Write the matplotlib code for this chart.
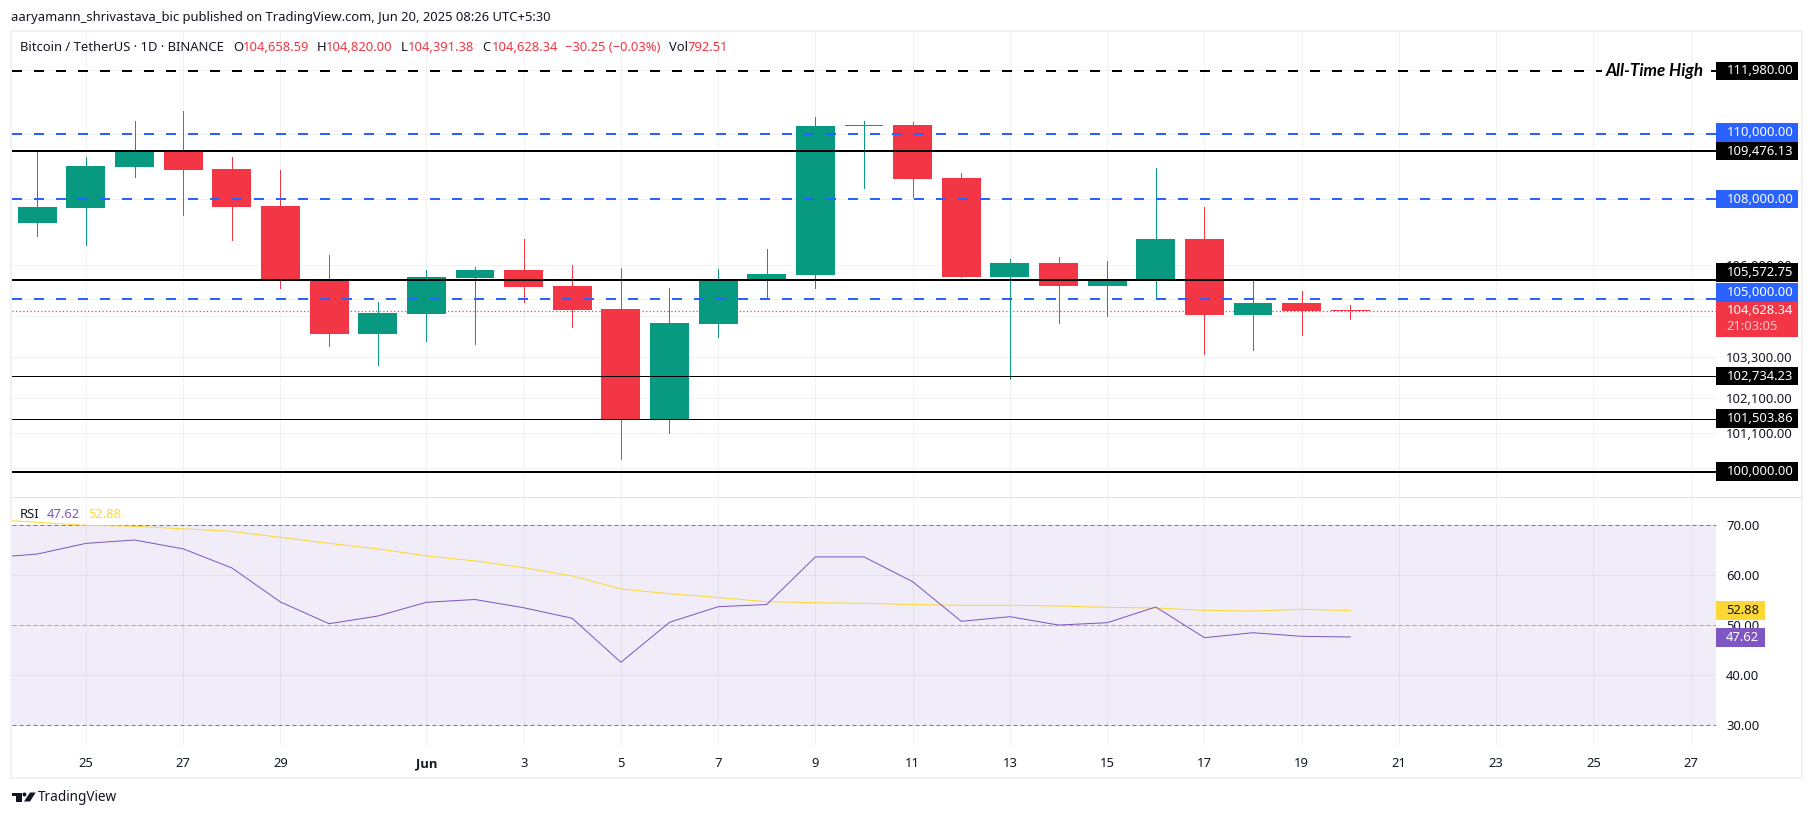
#!/usr/bin/env python3
# -*- coding: utf-8 -*-

import matplotlib
matplotlib.use('Agg')
import matplotlib.pyplot as plt
from matplotlib.patches import Circle, Polygon, Rectangle
from matplotlib.ticker import NullLocator

### Data ##

# one candle per day, May 24 to Jun 20 2025
opens = [107270, 107730, 108980, 109510, 108920, 107790, 105560, 103960, 104550, 105620,
         105860, 105380, 104700, 101500, 104260, 105560, 105710, 110250, 110280, 108650,
         105650, 106070, 105380, 105560, 106790, 104520, 104880, 104658.59]
closes = [107760, 109010, 109510, 108890, 107760, 105560, 103960, 104580, 105650, 105860,
          105350, 104670, 101500, 104290, 105530, 105740, 110250, 110280, 108610, 105650,
          106070, 105380, 105560, 106790, 104520, 104880, 104640, 104628.34]
highs = [109480, 109290, 110410, 110720, 109290, 108890, 106310, 104910, 105860, 105950,
         106790, 106010, 105920, 105320, 105890, 106490, 110530, 110410, 110380, 108800,
         106190, 106250, 106130, 108950, 107760, 105560, 105230, 104820]
lows = [106880, 106610, 108680, 107520, 106760, 105320, 103610, 103060, 103760, 103670,
        104910, 104170, 100360, 101100, 103880, 105000, 105320, 108340, 108070, 105650,
        102650, 104290, 104490, 105000, 103380, 103500, 103930, 104391.38]

# RSI starts one day before the first candle, the line runs off the pane on the left
rsi_days = list(range(-1, 28))
rsi = [63.4, 64.17, 66.3, 66.97, 65.2, 61.4, 54.6, 50.27, 51.8, 54.54, 55.1, 53.46, 51.35, 42.57, 50.55,
       53.66, 54.1, 63.6, 63.6, 58.65, 50.75, 51.67, 50.0, 50.47, 53.6, 47.48, 48.47, 47.75, 47.62]
rsi_ma = [71.1, 70.5, 69.9, 69.7, 69.2, 68.7, 67.5, 66.3, 65.2, 63.8, 62.8, 61.45, 59.8, 57.2, 56.25,
          55.5, 54.66, 54.46, 54.33, 54.1, 53.94, 53.94, 53.8, 53.54, 53.4, 52.94, 52.8, 53.14, 52.88]

date_ticks = [1, 3, 5, 8, 10, 12, 14, 16, 18, 20, 22, 24, 26, 28, 30, 32, 34]
date_labels = ['25', '27', '29', 'Jun', '3', '5', '7', '9', '11', '13', '15', '17', '19', '21', '23', '25', '27']
price_ticks = [112000, 110000, 108000, 106000, 105000, 104500, 103300, 102100, 101100, 100100]
rsi_ticks = [70, 60, 50, 40, 30]

blue_levels = [110000, 108000, 105000]
thick_levels = [109476.13, 105572.75, 100000]
thin_levels = [102734.23, 101503.86]
ath_level = 111980
last_price = 104628.34

## Settings ##

W, H = 1813, 817
GREEN = '#089981'
RED = '#f23645'
BLUE = '#2962ff'
PURPLE = '#7e57c2'
YELLOW = '#fdd835'
INK = '#131722'
FONT = 'Noto Sans'
PX = 0.72  # one pixel in points at dpi 100
FS = 13 * PX


def pane_axes(fig, left, top, right, bottom):
    return fig.add_axes([left / W, 1 - bottom / H, (right - left) / W, (bottom - top) / H])


def style_pane(ax):
    for s in ax.spines.values():
        s.set_visible(False)
    ax.set_xlim(-0.531, 34.51)
    ax.set_xticks(date_ticks)
    ax.yaxis.tick_right()
    ax.tick_params(axis='both', length=0)
    ax.tick_params(axis='y', pad=7.7, labelsize=FS, labelcolor=INK)
    ax.set_axisbelow(True)
    ax.grid(True, color='black', alpha=0.05, lw=PX)
    for lab in ax.get_yticklabels():
        lab.set_family(FONT)


def draw_candles(ax):
    for i in range(len(opens)):
        col = GREEN if closes[i] >= opens[i] else RED
        ax.vlines(i, lows[i], highs[i], color=col, lw=PX, zorder=2, antialiased=False)
        low_body = min(opens[i], closes[i])
        ax.bar(i, abs(closes[i] - opens[i]), bottom=low_body, width=0.8, color=col, zorder=2, lw=0)


def price_tag(top_ax, main_ax, price, text, bg, shift=0, height=18.7):
    # tags sit on their price unless the chart had to push them apart
    y = H - main_ax.transData.transform((0, price))[1] + shift
    top_ax.add_patch(Rectangle((1716, y - height / 2), 82.3, height, color=bg, lw=0, zorder=5))
    top_ax.text(1726.7, y, text, color='white', fontsize=FS, family=FONT, va='center', ha='left', zorder=6)


def main():
    fig = plt.figure(figsize=(W / 100, H / 100), dpi=100, facecolor='white')

    ax = pane_axes(fig, 11.5, 32, 1715.5, 496.5)
    ax.set_yscale('log')
    ax.set_ylim(99302, 113217)
    ax.yaxis.set_minor_locator(NullLocator())
    ax.set_yticks(price_ticks, [f'{t:,.2f}' for t in price_ticks])
    style_pane(ax)
    ax.yaxis.set_minor_locator(NullLocator())
    ax.set_xticklabels([])

    ax.axhline(last_price, color=RED, lw=1.2 * PX, ls=(0, (1, 2)), zorder=1)
    draw_candles(ax)
    for lev in blue_levels:
        ax.axhline(lev, color=BLUE, lw=2 * PX, ls=(0, (5, 6)), zorder=3)
    ax.axhline(ath_level, color='black', lw=2 * PX, ls=(0, (5, 6)), zorder=3)
    for lev in thick_levels:
        ax.axhline(lev, color='black', lw=2 * PX, zorder=3)
    for lev in thin_levels:
        ax.axhline(lev, color='black', lw=PX, zorder=3)

    ax2 = pane_axes(fig, 11.5, 497.5, 1715.5, 746)
    ax2.set_ylim(25.87, 75.45)
    ax2.set_yticks(rsi_ticks, [f'{t:.2f}' for t in rsi_ticks])
    style_pane(ax2)
    ax2.set_xticklabels(date_labels, fontsize=FS, color=INK, family=FONT)
    ax2.tick_params(axis='x', pad=8)
    for lab in ax2.get_xticklabels():
        if lab.get_text() == 'Jun':
            lab.set_family('Open Sans')
            lab.set_fontweight('bold')

    ax2.axhspan(30, 70, color='#f0edf8', lw=0, zorder=0)
    ax2.axhline(70, color='#787b86', lw=PX, ls=(0, (4, 3)), zorder=1)
    ax2.axhline(30, color='#787b86', lw=PX, ls=(0, (4, 3)), zorder=1)
    ax2.axhline(50, color='#787b86', lw=PX, ls=(0, (4, 3)), alpha=0.6, zorder=1)
    ax2.plot(rsi_days, rsi_ma, color=YELLOW, lw=PX, zorder=2)
    ax2.plot(rsi_days, rsi, color=PURPLE, lw=PX, zorder=3)

    # overlay in pixel coords for the frame, tags and header
    top = fig.add_axes([0, 0, 1, 1], facecolor='none')
    top.set_xlim(0, W)
    top.set_ylim(H, 0)
    top.axis('off')

    top.add_patch(Rectangle((11, 31), 1791, 746.5, fill=False, ec='#f1f1f3', lw=2 * PX, zorder=1))
    top.plot([12, 1801], [497, 497], color='#e0e3eb', lw=PX, zorder=1)

    fig.canvas.draw()
    price_tag(top, ax, ath_level, '111,980.00', 'black')
    price_tag(top, ax, 110000, '110,000.00', BLUE, shift=-1.5)
    price_tag(top, ax, 109476.13, '109,476.13', 'black')
    price_tag(top, ax, 108000, '108,000.00', BLUE)
    price_tag(top, ax, 105572.75, '105,572.75', 'black', shift=-7)
    price_tag(top, ax, 105000, '105,000.00', BLUE, shift=-6.5)
    price_tag(top, ax, 102734.23, '102,734.23', 'black')
    price_tag(top, ax, 101503.86, '101,503.86', 'black')
    price_tag(top, ax, 100000, '100,000.00', 'black')

    # last price tag has the countdown under it
    top.add_patch(Rectangle((1716, 301.7), 82.3, 35, color=RED, lw=0, zorder=5))
    top.text(1726.7, 310.5, '104,628.34', color='white', fontsize=FS, family=FONT, va='center', zorder=6)
    top.text(1726.7, 326, '21:03:05', color='#fbc5ca', fontsize=FS, family=FONT, va='center', zorder=6)

    # RSI tags
    top.add_patch(Rectangle((1716, 601), 49, 19, color=YELLOW, lw=0, zorder=5))
    top.text(1726, 610.5, '52.88', color=INK, fontsize=FS, family=FONT, va='center', zorder=6)
    top.add_patch(Rectangle((1716, 628), 49, 19, color=PURPLE, lw=0, zorder=5))
    top.text(1726, 637.5, '47.62', color='white', fontsize=FS, family=FONT, va='center', zorder=6)

    # All-Time High note sits on the dashed line
    top.add_patch(Rectangle((1602, 62), 109, 18, color='white', lw=0, zorder=4))
    top.text(1606, 71, 'All-Time High', color='black', fontsize=17 * PX, family='Lato', style='italic',
             weight='bold', va='center', zorder=6)

    # header and legend row
    top.text(11, 17, 'aaryamann_shrivastava_bic published on TradingView.com, Jun 20, 2025 08:26 UTC+5:30',
             color=INK, fontsize=FS, family=FONT, va='center')
    legend_row = [
        (20, 'Bitcoin / TetherUS · 1D · BINANCE', INK),
        (233, 'O', INK), (243.3, '104,658.59', RED),
        (316.5, 'H', INK), (326, '104,820.00', RED),
        (400.4, 'L', INK), (408, '104,391.38', RED),
        (482.3, 'C', INK), (491.7, '104,628.34', RED),
        (565, '−30.25 (−0.03%)', RED),
        (669, 'Vol', INK), (687.3, '792.51', RED),
    ]
    for x, txt, col in legend_row:
        top.text(x, 47, txt, color=col, fontsize=FS, family=FONT, va='center')

    top.text(20, 515, 'RSI', color=INK, fontsize=FS, family=FONT, va='center')
    top.text(46.4, 515, '47.62', color=PURPLE, fontsize=FS, family=FONT, va='center')
    top.text(88, 515, '52.88', color=YELLOW, fontsize=FS, family=FONT, va='center')

    # TradingView logo
    top.add_patch(Polygon([(12, 792.5), (21.5, 792.5), (21.5, 801.5), (16, 801.5), (16, 796), (12, 796)],
                          color=INK, lw=0))
    top.add_patch(Circle((24.5, 794.5), 2, color=INK, lw=0))
    top.add_patch(Polygon([(30, 792.5), (35.7, 792.5), (30, 801.5), (24, 801.5)], color=INK, lw=0))
    top.text(38, 797.5, 'TradingView', color=INK, fontsize=13.6 * PX, family=FONT, va='center')

    fig.savefig('out.png', dpi=100, facecolor='white')


if __name__ == "__main__":
    main()
